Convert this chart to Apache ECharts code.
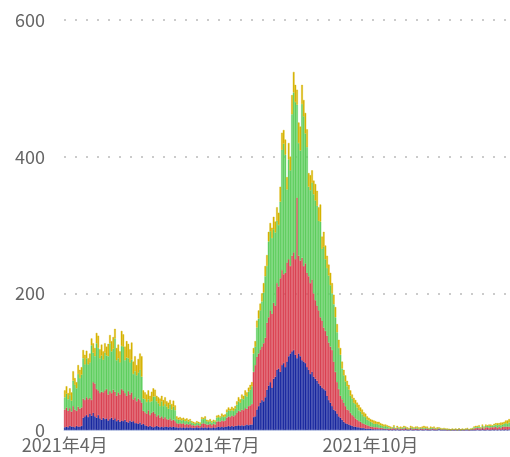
<!DOCTYPE html>
<html>
<head>
<meta charset="utf-8">
<script src="https://cdn.jsdelivr.net/npm/echarts@6/dist/echarts.min.js"></script>
<style>
  html, body { margin: 0; padding: 0; background: #fff; }
  #main { width: 510px; height: 457px; }
</style>
</head>
<body>
<div id="main"></div>
<script>
// 每日数据，从2021-04-01开始
var startDate = '2021-04-01';
var tickMonths = [4, 7, 10];

// 蓝色（最底层）
var blueData = [
  4,5,4,6,5,5,4,6,5,5,6,
  18,20,22,19,24,21,25,20,18,22,
  17,15,18,16,17,14,16,18,15,17,
  13,15,12,14,13,15,12,11,14,12,
  13,10,10,9,11,8,
  9,7,6,5,6,5,4,5,6,5,4,5,4,5,
  5,4,5,4,5,4,4,3,4,3,4,3,4,3,4,3,3,3,4,3,3,4,3,4,3,4,3,3,4,3,
  4,5,4,5,4,5,5,6,5,6,5,6,6,7,6,7,6,7,8,7,8,8,
  19,20,30,35,40,44,42,48,59,65,
  70,62,75,78,88,90,85,95,98,92,
  100,108,112,115,117,110,105,112,108,102,
  100,98,92,88,82,85,78,75,72,68,
  65,62,60,58,50,44,40,35,30,28,
  24,20,18,15,12,10,9,8,7,6,
  5,5,4,4,3,3,3,2,2,2,2,
  1,1,1,1,1,1,1,1,1,1,
  0,1,0,1,0,1,0,0,1,0,1,0,0,1,0,0,1,0,0,1,0,0,1,0,0,0,1,0,0,0,1,0,0,0,
  0,0,0,0,0,0,0,0,0,0,0,0,0,0,0,0,0,
  0,0,1,0,0,1,0,0,1,0,0,1,0,1,0,1,0,1,0,1,0,1
];

// 红色
var redData = [
  26,28,24,26,22,30,26,22,29,26,27,
  28,24,26,26,23,23,45,48,42,36,
  37,41,37,42,43,38,41,36,44,39,
  37,40,40,46,45,39,38,46,38,43,
  32,38,32,37,33,32,
  19,19,18,24,16,20,23,19,14,17,14,15,13,14,
  11,11,12,10,10,9,6,6,6,6,6,5,5,5,5,4,4,3,3,4,3,
  5,7,5,5,4,6,4,5,5,8,8,8,9,9,9,13,14,14,15,15,16,
  19,21,21,23,23,25,23,28,28,30,
  66,75,77,77,78,78,85,87,98,100,
  105,108,111,104,127,120,137,139,130,138,
  145,142,128,140,143,140,235,143,140,150,
  140,146,138,137,133,135,122,115,110,107,
  100,98,90,87,88,84,82,82,70,57,
  46,40,32,30,28,25,21,21,18,16,
  15,12,11,9,9,7,6,6,
  5,4,3,4,3,3,3,2,2,2,1,1,1,
  2,1,2,2,1,2,1,2,1,2,2,1,1,2,1,2,1,2,1,1,2,1,1,2,1,1,1,2,1,1,1,1,1,1,
  1,0,1,0,1,0,1,0,1,0,1,0,1,1,0,1,1,
  2,3,2,3,2,3,2,4,3,3,4,3,4,4,3,4,3,4,5,4,5,4
];

// 绿色
var greenData = [
  18,20,17,19,16,37,36,33,48,45,48,
  59,52,57,51,52,80,43,40,67,62,
  51,53,48,55,49,56,70,61,60,78,
  52,50,47,63,64,48,56,48,47,48,
  37,38,38,38,44,38,
  18,19,17,16,19,17,22,25,22,17,17,22,18,19,
  18,16,20,16,19,16,6,6,5,5,5,5,5,4,5,4,3,3,4,3,3,
  7,6,8,5,4,4,4,4,4,6,6,6,6,6,6,8,9,9,8,8,9,
  12,14,13,16,16,19,18,21,23,26,
  27,27,43,51,57,66,74,90,83,111,
  116,111,108,107,91,90,112,176,191,173,
  107,146,140,207,234,230,136,165,161,225,
  219,190,184,131,136,142,145,146,146,131,
  140,105,118,105,99,98,90,83,84,80,
  73,60,60,45,40,36,34,30,25,24,
  20,21,18,16,15,13,11,11,
  8,8,7,6,5,5,5,5,4,3,3,4,3,
  2,1,1,2,1,1,2,1,1,2,1,1,1,1,2,1,1,2,1,1,1,2,1,1,1,2,1,1,1,1,1,1,0,1,
  0,1,0,0,0,1,0,0,1,0,0,1,0,1,1,0,1,
  2,1,2,2,1,2,2,2,2,3,2,2,3,3,4,3,4,3,4,5,4,6
];

// 黄色（最上层）
var yellowData = [
  10,11,9,10,12,14,10,9,13,12,11,
  12,14,11,9,13,10,14,12,15,18,
  13,16,12,14,13,18,12,15,17,14,
  18,20,16,22,18,20,24,21,19,25,
  18,22,15,20,24,30,
  12,10,11,13,9,14,12,10,8,9,11,8,9,10,
  8,9,7,8,9,7,4,3,4,3,3,3,3,3,2,2,2,2,2,2,2,
  3,2,3,2,2,3,2,2,2,3,3,2,4,3,3,4,4,3,5,4,4,
  5,6,5,6,5,7,6,6,7,6,
  8,8,10,12,10,12,14,15,16,14,
  12,15,18,16,20,18,22,25,20,22,
  18,24,20,28,30,25,22,30,35,28,
  24,30,26,20,22,18,20,24,22,20,
  25,18,22,20,18,16,18,15,14,15,
  12,12,10,10,8,9,8,7,8,6,
  7,6,7,8,6,7,6,5,
  5,4,4,4,5,4,3,4,3,3,3,2,2,
  2,2,1,2,1,2,1,2,1,2,1,2,1,2,2,1,2,1,2,1,2,3,2,2,1,2,1,2,1,2,1,1,1,1,
  1,1,0,1,1,0,1,1,0,1,1,0,1,1,0,1,1,
  1,2,1,2,1,2,1,2,1,2,2,1,2,2,3,2,4,3,3,4,5,5
];

var seriesColors = ['#1a28a0', '#da4353', '#5fce5f', '#d6b300'];

// 日期类目
var days = [];
var d0 = new Date(startDate + 'T00:00:00');
for (var i = 0; i < blueData.length; i++) {
  var d = new Date(d0.getTime() + i * 86400000);
  days.push(d.getFullYear() + '-' + (d.getMonth() + 1) + '-' + d.getDate());
}

function isTickDay(idx) {
  var p = days[idx].split('-');
  return p[2] === '1' && tickMonths.indexOf(+p[1]) >= 0;
}

var myChart = echarts.init(document.getElementById('main'));

var textStyle = {color: '#666', fontSize: 18, fontFamily: '"Noto Sans CJK SC", "Noto Sans", sans-serif'};

var names = ['blue', 'red', 'green', 'yellow'];
var lists = [blueData, redData, greenData, yellowData];

myChart.setOption({
  animation: false,
  grid: {left: 64, right: 0, top: 20, bottom: 27},
  xAxis: {
    type: 'category',
    data: days,
    axisLine: {lineStyle: {color: '#ccd6eb'}},
    axisTick: {
      lineStyle: {color: '#ccd6eb'},
      length: 3,
      interval: function (idx) { return idx % 9 === 0; }
    },
    axisLabel: Object.assign({
      interval: function (idx) { return isTickDay(idx); },
      formatter: function (v) {
        var p = v.split('-');
        return p[0] + '年' + p[1] + '月';
      },
      margin: 6
    }, textStyle)
  },
  yAxis: {
    type: 'value',
    min: 0,
    max: 600,
    interval: 200,
    axisLine: {show: false},
    axisTick: {show: false},
    axisLabel: Object.assign({margin: 19}, textStyle),
    splitLine: {lineStyle: {color: '#bbb', type: [2, 9], width: 1.5}}
  },
  series: lists.map(function (arr, k) {
    return {
      name: names[k],
      type: 'bar',
      stack: 'total',
      data: arr,
      barCategoryGap: '0%',
      itemStyle: {color: seriesColors[k], borderColor: seriesColors[k], borderWidth: 0.4}
    };
  })
});
</script>
</body>
</html>
